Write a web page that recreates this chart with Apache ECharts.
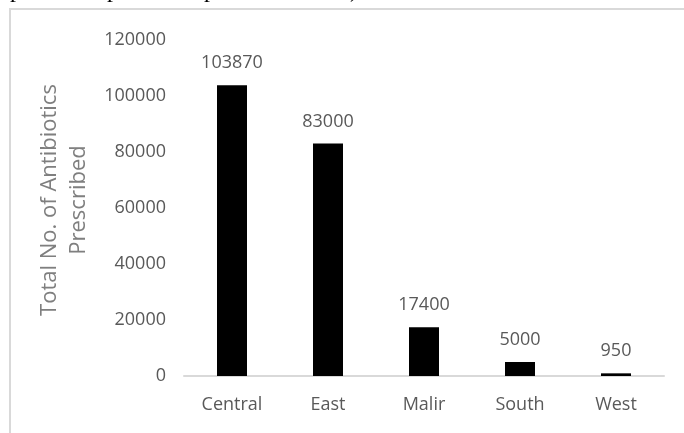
<!DOCTYPE html>
<html><head><meta charset="utf-8">
<script src="https://cdn.jsdelivr.net/npm/echarts@6/dist/echarts.min.js"></script>
<style>html,body{margin:0;padding:0;background:#fff}#c{width:684px;height:433px}</style>
</head><body><div id="c"></div>
<script>
const categories = ['Central', 'East', 'Malir', 'South', 'West'];
const values = [103870, 83000, 17400, 5000, 950];
const yTicks = [0, 20000, 40000, 60000, 80000, 100000, 120000];
const yTitle = 'Total No. of Antibiotics\nPrescribed';
const topFragments = ['p', 'p', 'p', ')'];
const fragX = [10, 107, 204, 350];

const chart = echarts.init(document.getElementById('c'), null, {renderer: 'canvas'});
const font = '"Open Sans", sans-serif';
chart.setOption({
  animation: false,
  backgroundColor: '#fff',
  grid: {left: 184, right: 20, top: 40, bottom: 57},
  xAxis: {
    type: 'category', data: categories,
    axisLine: {lineStyle: {color: '#d9d9d9', width: 2}},
    axisTick: {show: false},
    axisLabel: {color: '#595959', fontFamily: font, fontSize: 18, margin: 20}
  },
  yAxis: {
    type: 'value', min: yTicks[0], max: yTicks[yTicks.length - 1], interval: yTicks[1] - yTicks[0],
    axisLine: {show: false}, axisTick: {show: false}, splitLine: {show: false},
    axisLabel: {color: '#595959', fontFamily: font, fontSize: 18, margin: 18, formatter: v => String(v)}
  },
  series: [{
    type: 'bar', data: values, barWidth: 30,
    itemStyle: {color: '#000'},
    label: {show: true, position: 'top', distance: 13, color: '#595959', fontFamily: font, fontSize: 18}
  }],
  graphic: [
    {type: 'rect', shape: {x: 10, y: 9, width: 700, height: 500}, style: {fill: 'none', stroke: '#d9d9d9', lineWidth: 2}, silent: true},
    {type: 'text', x: 64, y: 200, rotation: Math.PI / 2,
     style: {text: yTitle, font: '22px "Open Sans", sans-serif', fill: '#7f7f7f', align: 'center', verticalAlign: 'middle', lineHeight: 29}}
  ].concat(topFragments.map((t, i) => ({
    type: 'text', x: fragX[i], y: 3,
    style: {text: t, font: '24px "Liberation Serif", serif', fill: '#000', verticalAlign: 'bottom'}
  })))
});
</script></body></html>
